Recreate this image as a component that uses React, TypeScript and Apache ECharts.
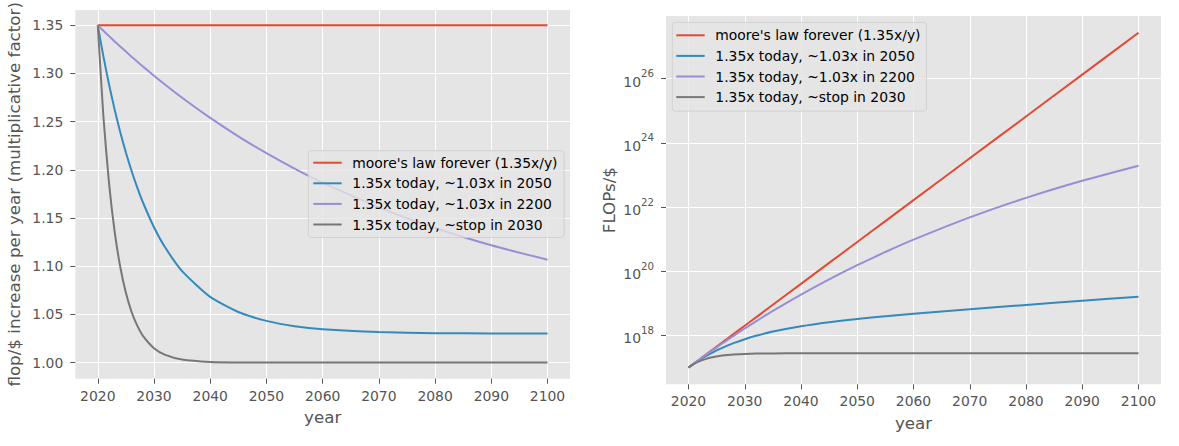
import React, { useEffect, useRef } from 'react';
import * as echarts from 'echarts';

// ---------------- data ----------------
const years = [2020, 2021, 2022, 2023, 2024, 2025, 2026, 2027, 2028, 2030, 2032, 2035, 2040, 2045, 2050, 2055, 2060, 2070, 2080, 2090, 2100];

const seriesNames = [
  "moore's law forever (1.35x/y)",
  '1.35x today, ~1.03x in 2050',
  '1.35x today, ~1.03x in 2200',
  '1.35x today, ~stop in 2030',
];

// yearly multiplicative factor (left panel)
const rateMoore = [1.35, 1.35, 1.35, 1.35, 1.35, 1.35, 1.35, 1.35, 1.35, 1.35, 1.35, 1.35, 1.35, 1.35, 1.35, 1.35, 1.35, 1.35, 1.35, 1.35, 1.35];
const rate2050 = [1.35, 1.3177, 1.2887, 1.2625, 1.239, 1.2179, 1.199, 1.182, 1.1666, 1.1404, 1.1193, 1.0949, 1.0681, 1.0524, 1.0432, 1.0377, 1.0345, 1.0316, 1.0305, 1.0302, 1.0301];
const rate2200 = [1.35, 1.3443, 1.3388, 1.3333, 1.3279, 1.3227, 1.3175, 1.3124, 1.3074, 1.2977, 1.2883, 1.2748, 1.2539, 1.2348, 1.2173, 1.2013, 1.1867, 1.1611, 1.1396, 1.1217, 1.1067];
const rateStop = [1.35, 1.2553, 1.1862, 1.1358, 1.0991, 1.0723, 1.0527, 1.0385, 1.028, 1.0149, 1.0079, 1.0031, 1.0006, 1.0001, 1.0, 1.0, 1.0, 1.0, 1.0, 1.0, 1.0];

// FLOPs per dollar (right panel)
const flopsMoore = [1e17, 1.35e17, 1.8225e17, 2.4604e17, 3.3215e17, 4.484e17, 6.0534e17, 8.1722e17, 1.1032e18, 2.0107e18, 3.6644e18, 9.0158e18, 4.0443e19, 1.8131e20, 8.1288e20, 3.6454e21, 1.6344e22, 3.286e23, 6.6069e24, 1.3283e26, 2.6713e27];
const flops2050 = [1e17, 1.3335e17, 1.7375e17, 2.2159e17, 2.7706e17, 3.404e17, 4.113e17, 4.8963e17, 5.7489e17, 7.643e17, 9.7502e17, 1.3207e18, 1.943e18, 2.5947e18, 3.2701e18, 3.9823e18, 4.7534e18, 6.5617e18, 8.9022e18, 1.2003e19, 1.615e19];
const flops2200 = [1e17, 1.3472e17, 1.807e17, 2.415e17, 3.2134e17, 4.259e17, 5.622e17, 7.389e17, 9.682e17, 1.6427e18, 2.748e18, 5.78e18, 1.8664e19, 5.562e19, 1.5394e20, 3.979e20, 9.6485e20, 4.7738e21, 1.9303e22, 6.583e22, 1.9365e23];
const flopsStop = [1e17, 1.2998e17, 1.5841e17, 1.8372e17, 2.0511e17, 2.2254e17, 2.3636e17, 2.4703e17, 2.5522e17, 2.6593e17, 2.7184e17, 2.7606e17, 2.7821e17, 2.7865e17, 2.787e17, 2.787e17, 2.787e17, 2.787e17, 2.787e17, 2.787e17, 2.787e17];

// tick labels
const yearTicks = [2020, 2030, 2040, 2050, 2060, 2070, 2080, 2090, 2100];
const rateTicks = [1.0, 1.05, 1.1, 1.15, 1.2, 1.25, 1.3, 1.35];
const flopsTicks = [1e18, 1e20, 1e22, 1e24, 1e26];

// ---------------- styles ----------------
const COLORS = ['#E24A33', '#348ABD', '#988ED5', '#777777'];
const FONT = 'DejaVu Sans';
const TICK_COLOR = '#555555';
const BG = '#E5E5E5';

const pairs = (vals: number[]) => years.map((y, i) => [y, vals[i]]);

const xAxisBase = (gridIndex: number) => ({
  type: 'value',
  gridIndex,
  min: 2016,
  max: 2104,
  name: 'year',
  nameLocation: 'middle',
  nameGap: 30,
  nameTextStyle: { fontFamily: FONT, fontSize: 16.7, color: TICK_COLOR },
  axisLine: { show: false },
  axisTick: { show: true, customValues: yearTicks, length: 5, lineStyle: { color: TICK_COLOR, width: 1 } },
  axisLabel: {
    customValues: yearTicks,
    margin: 10,
    fontFamily: FONT,
    fontSize: 13.9,
    color: TICK_COLOR,
    formatter: (v: number) => String(Math.round(v)),
  },
  splitLine: { show: true, lineStyle: { color: '#ffffff', width: 1 } },
});

const legendBase = (left: number, top: number, pad: number[]) => ({
  show: true,
  orient: 'vertical',
  left,
  top,
  z: 20,
  data: seriesNames,
  icon: 'rect',
  itemWidth: 28.4,
  itemHeight: 2,
  itemGap: 4.6,
  padding: pad,
  selectedMode: false,
  backgroundColor: 'rgba(229,229,229,0.8)',
  borderColor: 'rgba(204,204,204,0.8)',
  borderWidth: 1,
  borderRadius: 3,
  textStyle: { fontFamily: FONT, fontSize: 13.9, color: '#000000', lineHeight: 16, padding: [0, 0, 0, 5.6] },
});

const lineSeries = (name: string, data: number[], idx: number, axis: number) => ({
  type: 'line',
  name,
  xAxisIndex: axis,
  yAxisIndex: axis,
  data: pairs(data),
  showSymbol: false,
  symbol: 'none',
  smooth: 0.2,
  color: COLORS[idx],
  lineStyle: { color: COLORS[idx], width: 2 },
  z: 2,
  zlevel: 0,
});

export default function App() {
  const ref = useRef<HTMLDivElement>(null);

  useEffect(() => {
    if (!ref.current) return;
    const chart = echarts.init(ref.current, undefined, { renderer: 'svg' });
    const option = {
      animation: false,
      textStyle: { fontFamily: FONT },
      grid: [
        { left: 75.3, top: 10, width: 494.7, height: 368.7, show: true, backgroundColor: BG, borderWidth: 0 },
        { left: 666, top: 16, width: 495, height: 368.3, show: true, backgroundColor: BG, borderWidth: 0 },
      ],
      xAxis: [xAxisBase(0), xAxisBase(1)],
      yAxis: [
        {
          type: 'value',
          gridIndex: 0,
          min: 0.9832,
          max: 1.3659,
          name: 'flop/$ increase per year (multiplicative factor)',
          nameLocation: 'middle',
          nameGap: 52.5,
          nameTextStyle: { fontFamily: FONT, fontSize: 16.7, color: TICK_COLOR },
          axisLine: { show: false },
          axisTick: { show: true, customValues: rateTicks, length: 5, lineStyle: { color: TICK_COLOR, width: 1 } },
          axisLabel: {
            customValues: rateTicks,
            margin: 12,
            fontFamily: FONT,
            fontSize: 13.9,
            color: TICK_COLOR,
            formatter: (v: number) => v.toFixed(2),
          },
          splitLine: { show: true, lineStyle: { color: '#ffffff', width: 1 } },
        },
        {
          type: 'log',
          logBase: 10,
          gridIndex: 1,
          min: 3.0109e16,
          max: 8.872e27,
          name: 'FLOPs/$',
          nameLocation: 'middle',
          nameGap: 48.6,
          nameTextStyle: { fontFamily: FONT, fontSize: 16.7, color: TICK_COLOR },
          axisLine: { show: false },
          axisTick: { show: true, customValues: flopsTicks, length: 5, lineStyle: { color: TICK_COLOR, width: 1 } },
          axisLabel: {
            customValues: flopsTicks,
            margin: 12,
            fontFamily: FONT,
            color: TICK_COLOR,
            formatter: (v: number) => {
              const e = v > 1000 ? Math.round(Math.log10(v)) : Math.round(v);
              return `{b|10}{s|${e}}`;
            },
            rich: {
              b: { fontFamily: FONT, fontSize: 13.9, color: TICK_COLOR, lineHeight: 13, verticalAlign: 'bottom' },
              s: { fontFamily: FONT, fontSize: 10.2, color: TICK_COLOR, lineHeight: 20, verticalAlign: 'top' },
            },
          },
          splitLine: { show: true, lineStyle: { color: '#ffffff', width: 1 } },
        },
      ],
      legend: [legendBase(308.3, 150.7, [4, 6.6, 5, 5]), legendBase(672.3, 22.3, [5, 6, 6, 4])],
      series: [
        lineSeries(seriesNames[0], rateMoore, 0, 0),
        lineSeries(seriesNames[1], rate2050, 1, 0),
        lineSeries(seriesNames[2], rate2200, 2, 0),
        lineSeries(seriesNames[3], rateStop, 3, 0),
        lineSeries(seriesNames[0], flopsMoore, 0, 1),
        lineSeries(seriesNames[1], flops2050, 1, 1),
        lineSeries(seriesNames[2], flops2200, 2, 1),
        lineSeries(seriesNames[3], flopsStop, 3, 1),
      ],
    };
    chart.setOption(option as any);
    return () => chart.dispose();
  }, []);

  return (
    <div
      ref={ref}
      style={{ position: 'absolute', left: 0, top: 0, width: 1179, height: 446, background: '#ffffff' }}
    />
  );
}
